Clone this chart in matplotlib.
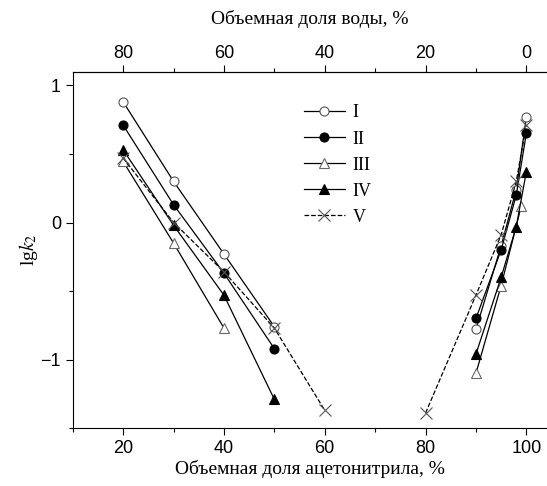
import matplotlib
matplotlib.use("Agg")
import matplotlib.pyplot as plt
from matplotlib.ticker import MultipleLocator, FixedLocator

plt.rcParams['mathtext.fontset'] = 'stix'

# доля ацетонитрила, % (левая и правая ветви)
x_left = [20, 30, 40, 50]
x_right = [90, 95, 98, 100]

# lg k2 для серий I-IV
I_left = [0.88, 0.30, -0.23, -0.76]
I_right = [-0.78, -0.17, 0.24, 0.77]
II_left = [0.71, 0.13, -0.37, -0.92]
II_right = [-0.70, -0.20, 0.20, 0.65]
III_x_left = [20, 30, 40]
III_left = [0.445, -0.15, -0.77]
III_x_right = [90, 95, 99]
III_right = [-1.10, -0.46, 0.12]
IV_left = [0.53, -0.02, -0.53, -1.29]
IV_right = [-0.96, -0.40, -0.03, 0.37]

# серия V
V_x_left = [20, 30, 40, 50, 60]
V_left = [0.47, 0.0, -0.36, -0.77, -1.37]
V_x_right = [80, 90, 95, 98, 100]
V_right = [-1.39, -0.53, -0.09, 0.30, 0.71]

labels = ['I', 'II', 'III', 'IV', 'V']
water_ticks = [80, 60, 40, 20, 0]
water_minor = [70, 50, 30, 10]

fig = plt.figure(figsize=(5.47, 4.86), dpi=100)
ax = fig.add_axes([0.133, 0.119, 0.867, 0.7335])

styles = [
    dict(marker='o', mfc='white', mec='#555555', color='black', ls='-'),
    dict(marker='o', mfc='black', mec='black', color='black', ls='-'),
    dict(marker='^', mfc='white', mec='#666666', color='black', ls='-'),
    dict(marker='^', mfc='black', mec='black', color='black', ls='-'),
    dict(marker='x', mfc='none', mec='#555555', color='black', ls='--'),
]
series = [
    (x_left, I_left, x_right, I_right),
    (x_left, II_left, x_right, II_right),
    (III_x_left, III_left, III_x_right, III_right),
    (x_left, IV_left, x_right, IV_right),
    (V_x_left, V_left, V_x_right, V_right),
]

for (xl, yl, xr, yr), st, lab in zip(series, styles, labels):
    ms = 8 if st['marker'] == 'x' else 6.5
    ax.plot(xl, yl, lw=0.9, ms=ms, mew=0.8, label=lab, **st)
    ax.plot(xr, yr, lw=0.9, ms=ms, mew=0.8, **st)

ax.set_xlim(10, 104.1)
ax.set_ylim(-1.5, 1.1)
ax.spines['right'].set_visible(False)

ax.xaxis.set_major_locator(MultipleLocator(20))
ax.xaxis.set_minor_locator(MultipleLocator(10))
ax.yaxis.set_major_locator(MultipleLocator(1))
ax.yaxis.set_minor_locator(MultipleLocator(0.5))
ax.tick_params(which='major', length=5, width=0.8, labelsize=13)
ax.tick_params(which='minor', length=3, width=0.8)
for t in ax.get_xticklabels() + ax.get_yticklabels():
    t.set_fontfamily('Liberation Sans')

ax.set_xlabel('Объемная доля ацетонитрила, %', family='Liberation Serif',
              fontsize=14, labelpad=2)
ax.set_ylabel(r'lg$\mathit{k}_2$', family='Liberation Serif', fontsize=14,
              labelpad=0)

top = ax.secondary_xaxis('top', functions=(lambda x: 100 - x, lambda x: 100 - x))
top.xaxis.set_major_locator(FixedLocator(water_ticks))
top.xaxis.set_minor_locator(FixedLocator(water_minor))
top.tick_params(which='major', length=5, width=0.8, labelsize=13, pad=2)
top.tick_params(which='minor', length=3, width=0.8)
for t in top.get_xticklabels():
    t.set_fontfamily('Liberation Sans')
top.set_xlabel('Объемная доля воды, %', family='Liberation Serif',
               fontsize=14, labelpad=15)

leg = ax.legend(loc='upper left', bbox_to_anchor=(0.555, 0.785),
                bbox_transform=fig.transFigure, frameon=False,
                borderpad=0, borderaxespad=0, handlelength=2.3,
                labelspacing=0.5, handletextpad=0.4,
                prop={'family': 'Liberation Serif', 'size': 13})

fig.savefig('out.png', dpi=100)
